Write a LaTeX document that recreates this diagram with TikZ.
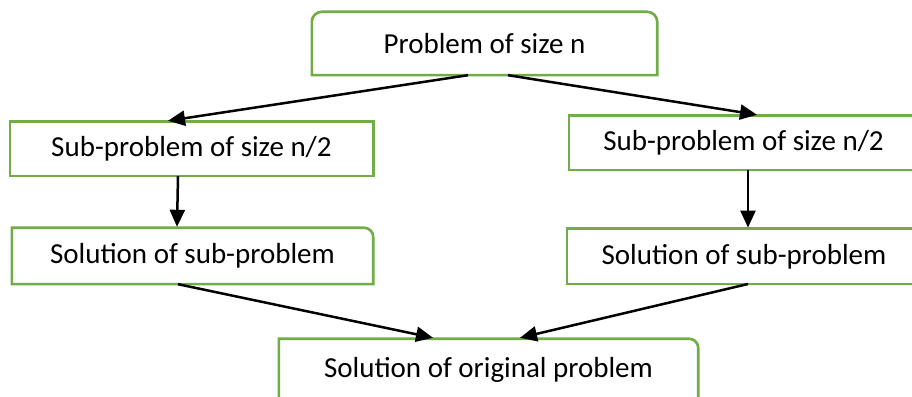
\documentclass[tikz,border=0pt]{standalone}
\usepackage{fontspec}
\setmainfont{Carlito}
\usetikzlibrary{arrows.meta}
\definecolor{boxgreen}{HTML}{70AD47}
\tikzset{
  boxnode/.style={draw=none, inner sep=0pt, font=\fontsize{29}{35}\selectfont},
  outline/.style={draw=boxgreen, line width=2.6pt},
  conn/.style={draw=black, line width=2.5pt, -{Triangle[length=17pt,width=15pt]}}
}
\begin{document}
\begin{tikzpicture}[x=1pt,y=1pt]
\clip (0,0) rectangle (912,396);
\fill[white] (0,0) rectangle (912,396);

% nodes
\node[boxnode, minimum width=345pt, minimum height=63pt] (top) at (484.5,352.5) {Problem of size n};
\node[boxnode, minimum width=363pt, minimum height=54pt] (ls) at (191.5,247) {Sub-problem of size n/2};
\node[boxnode, minimum width=361pt, minimum height=56pt] (lsol) at (192.5,140) {Solution of sub-problem};
\node[boxnode, minimum width=349pt, minimum height=54pt] (rs) at (743.5,253) {Sub-problem of size n/2};
\node[boxnode, minimum width=354pt, minimum height=55pt] (rsol) at (744,139.7) {Solution of sub-problem};
\node[boxnode, minimum width=419pt, minimum height=62pt] (bot) at (488.5,26) {Solution of original problem};

% outlines
\draw[outline] (top.south west) -- ([yshift=-10pt]top.north west) arc[start angle=180,end angle=90,radius=10pt]
  -- ([xshift=-10pt]top.north east) arc[start angle=90,end angle=0,radius=10pt] -- (top.south east) -- cycle;
\draw[outline] (ls.south west) rectangle (ls.north east);
\draw[outline] (lsol.south west) -- (lsol.north west) -- ([xshift=-9pt]lsol.north east)
  arc[start angle=90,end angle=0,radius=9pt] -- (lsol.south east) -- cycle;
\draw[outline] (rs.south west) rectangle (rs.north east);
\draw[outline] (rsol.south west) rectangle (rsol.north east);
\draw[outline] (bot.south west) -- (bot.north west) -- ([xshift=-9pt]bot.north east)
  arc[start angle=90,end angle=0,radius=9pt] -- (bot.south east) -- cycle;

% connectors
\draw[conn] ([xshift=-16.5pt]top.south) -- ([xshift=-23.5pt,yshift=1pt]ls.north);
\draw[conn] ([xshift=23.5pt]top.south) -- ([xshift=13.5pt,yshift=1pt]rs.north);
\draw[conn] ([xshift=-13.5pt]ls.south) -- ([xshift=-15.5pt,yshift=1pt]lsol.north);
\draw[conn] ([xshift=4.5pt]rs.south) -- ([xshift=4pt,yshift=1pt]rsol.north);
\draw[conn] ([xshift=-14.5pt]lsol.south) -- ([xshift=-55.5pt,yshift=1pt]bot.north);
\draw[conn] ([xshift=4pt]rsol.south) -- ([xshift=31.5pt,yshift=1pt]bot.north);
\end{tikzpicture}
\end{document}
